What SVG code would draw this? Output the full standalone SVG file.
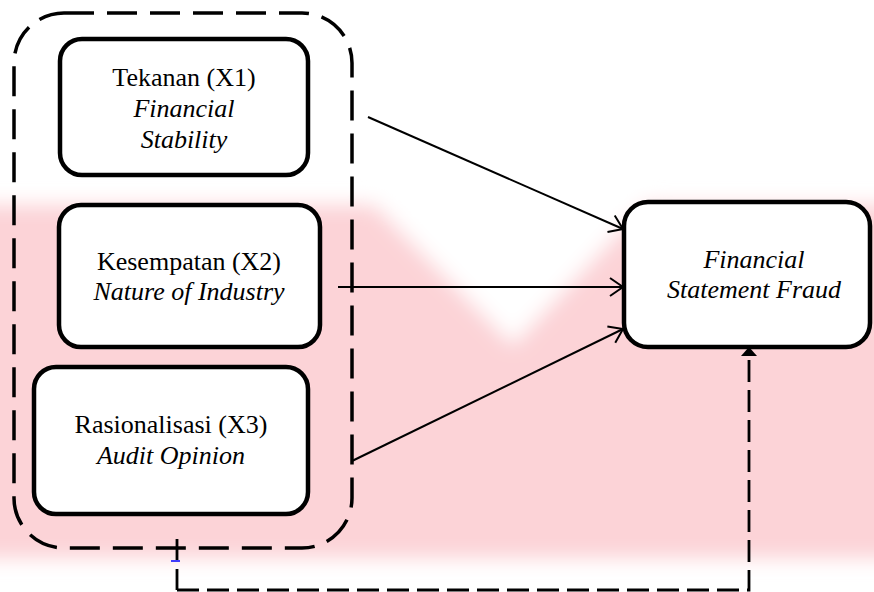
<svg xmlns="http://www.w3.org/2000/svg" width="874" height="592" viewBox="0 0 874 592">
  <style>
    .node { fill: #ffffff; stroke: #000000; stroke-width: 4.5; }
    .t { font-family: "Liberation Serif", "DejaVu Serif", serif; font-size: 26px; fill: #000000; text-anchor: middle; }
    .i { font-family: "Liberation Serif", "DejaVu Serif", serif; font-style: italic; }
    .arrow { fill: none; stroke: #000000; stroke-width: 2; marker-end: url(#open); }
    .boundary { fill: none; stroke: #000000; stroke-width: 3.5; stroke-dasharray: 30 13; }
    .feedback { fill: none; stroke: #000000; stroke-width: 2.8; stroke-dasharray: 21 9; }
  </style>
  <defs>
    <marker id="open" markerUnits="userSpaceOnUse" markerWidth="20" markerHeight="24" refX="16" refY="12" orient="auto" viewBox="0 0 20 24">
      <path d="M3,3 L16,12 L3,21" fill="none" stroke="#000000" stroke-width="2"/>
    </marker>
    <filter id="soft" x="-5%" y="-20%" width="110%" height="140%">
      <feGaussianBlur stdDeviation="10"/>
    </filter>
  </defs>

  <!-- background -->
  <rect x="0" y="0" width="874" height="592" fill="#ffffff"/>
  <g filter="url(#soft)">
    <rect x="-30" y="205" width="934" height="353" fill="#fcd3d7"/>
    <polygon points="370,200 650,200 513,345" fill="#ffffff"/>
  </g>

  <!-- group boundary -->
  <g id="group-boundary">
    <rect class="boundary" x="14" y="13" width="338" height="535" rx="50" ry="50"/>
  </g>

  <g id="node-x1">
    <rect class="node" x="60" y="39" width="248" height="136" rx="22" ry="22"/>
    <text class="t" x="184" y="86">Tekanan (X1)</text>
    <text class="t i" x="184" y="117">Financial</text>
    <text class="t i" x="184" y="148">Stability</text>
  </g>

  <g id="node-x2">
    <rect class="node" x="59" y="205" width="261" height="142" rx="22" ry="22"/>
    <text class="t" x="189" y="270">Kesempatan (X2)</text>
    <text class="t i" x="189" y="300">Nature of Industry</text>
  </g>

  <g id="node-x3">
    <rect class="node" x="34" y="367" width="274" height="147" rx="22" ry="22"/>
    <text class="t" x="171" y="433">Rasionalisasi (X3)</text>
    <text class="t i" x="171" y="464">Audit Opinion</text>
  </g>

  <g id="node-y">
    <rect class="node" x="624" y="202" width="246" height="145" rx="24" ry="24"/>
    <text class="t i" x="754" y="268">Financial</text>
    <text class="t i" x="754" y="298">Statement Fraud</text>
  </g>

  <g id="connectors">
    <line class="arrow" x1="368" y1="117" x2="623" y2="229"/>
    <line class="arrow" x1="338" y1="287" x2="623" y2="287"/>
    <line class="arrow" x1="352" y1="461" x2="623" y2="329"/>
    <path class="feedback" d="M177,539 V590"/>
    <path class="feedback" style="stroke-dasharray: 22 8;" d="M177,590 H749 V356"/>
    <polygon points="741,356 757,356 749,347" fill="#000000"/>
    <line x1="171" y1="561" x2="180" y2="561" stroke="#0000ff" stroke-width="1.5"/>
  </g>
</svg>
